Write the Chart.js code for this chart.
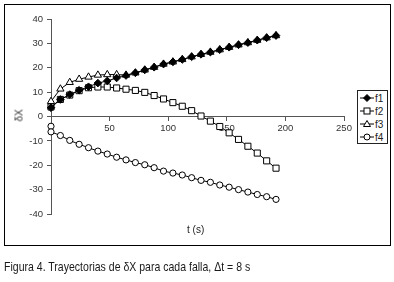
<!DOCTYPE html>
<html><head><meta charset="utf-8">
<script src="https://cdn.jsdelivr.net/npm/chart.js@4.4.1/dist/chart.umd.min.js"></script>
<style>
html,body{margin:0;padding:0;background:#fff;}
#wrap{position:relative;width:394px;height:282px;overflow:hidden;font-family:"Liberation Sans",Arial,sans-serif;}
#frame{position:absolute;left:4px;top:4px;width:385px;height:240px;border:1px solid #000;}
canvas{position:absolute;left:0;top:0;}
#xt{position:absolute;left:187px;top:224px;font-size:10px;color:#222;}
#yt{position:absolute;left:8px;top:110px;width:22px;text-align:center;font-size:10px;color:#333;transform:rotate(-90deg);}
#legend{position:absolute;left:357px;top:90px;width:29px;height:52px;border:1px solid #222;background:#fff;}
.li{position:absolute;left:1px;height:13px;font-size:10px;color:#222;line-height:13px;}
.li svg{position:absolute;left:1px;top:0;}
.li span{position:absolute;left:16px;top:0;}
#cap{position:absolute;left:4px;top:260px;font-size:12.4px;color:#1a1a1a;white-space:nowrap;transform:scaleX(0.85);transform-origin:0 0;}
</style></head>
<body><div id="wrap">
<div id="frame"></div>
<canvas id="c" width="394" height="282"></canvas>
<div id="xt">t (s)</div>
<div id="yt">δX</div>
<div id="legend"></div>
<div id="cap">Figura 4. Trayectorias de δX para cada falla, Δt = 8 s</div>
</div>
<script>
const t = [0,8,16,24,32,40,48,56,64,72,80,88,96,104,112,120,128,136,144,152,160,168,176,184,192];
const tF4 = [0].concat(t);
const f1 = [3.6,7.0,9.0,10.8,12.2,13.7,14.6,15.8,16.8,17.9,19.1,20.2,21.5,22.4,23.4,24.5,25.5,26.4,27.4,28.4,29.4,30.3,31.3,32.3,33.2];
const f2 = [3.9,7.0,8.8,10.6,11.8,12.1,12.1,11.7,11.2,10.7,9.9,8.6,7.2,5.7,4.2,2.4,0.2,-1.9,-4.1,-6.7,-9.4,-12.2,-15.0,-18.2,-21.2];
const f3 = [6.2,11.3,14.0,15.3,16.2,17.0,17.2,17.2,17.0,17.9,19.1,20.2,21.5,22.4,23.4,24.5,25.5,26.4,27.4,28.4,29.4,30.3,31.3,32.3,33.2];
const f4 = [-4.0,-6.3,-7.8,-9.8,-11.4,-12.8,-14.2,-15.4,-16.7,-17.8,-18.9,-19.8,-21.0,-22.4,-23.2,-24.0,-25.1,-26.2,-27.0,-28.1,-29.0,-30.0,-31.0,-32.0,-32.9,-34.0];
const names = ['f1','f2','f3','f4'];
const xTicks = [0,50,100,150,200,250];
const yTicks = [-40,-30,-20,-10,0,10,20,30,40];

const pts = (xs, ys) => ys.map((v,i)=>({x:xs[i], y:v}));
const styles = [
  {pointStyle:'rectRot', pointRadius:3.8, pointBackgroundColor:'#000'},
  {pointStyle:'rect', pointRadius:4.3, pointBackgroundColor:'#fff'},
  {pointStyle:'triangle', pointRadius:4.2, pointBackgroundColor:'#fff'},
  {pointStyle:'circle', pointRadius:3.1, pointBackgroundColor:'#fff'}
];
const series = [pts(t,f1), pts(t,f2), pts(t,f3), pts(tF4,f4)];
const datasets = series.map((d,i)=>Object.assign({
  label:names[i], data:d, borderColor:'#000', borderWidth:1,
  pointBorderColor:'#000', pointBorderWidth:1, clip:false, tension:0
}, styles[i]));

const axisCommon = {
  border:{display:true,color:'#555',width:1},
  grid:{display:true,drawOnChartArea:false,drawTicks:true,tickLength:4,tickColor:'#555'},
  ticks:{color:'#333',font:{family:'"Liberation Sans", Arial, sans-serif',size:9.5}}
};
new Chart(document.getElementById('c'), {
  type:'line',
  data:{datasets},
  options:{
    responsive:false, animation:false, devicePixelRatio:1,
    layout:{padding:{left:4,right:50,top:19,bottom:68}},
    plugins:{legend:{display:false},tooltip:{enabled:false}},
    scales:{
      x:Object.assign({}, axisCommon, {type:'linear', min:0, max:250, position:{y:0},
        afterBuildTicks:s=>{s.ticks = xTicks.map(v=>({value:v}));},
        ticks:Object.assign({}, axisCommon.ticks, {padding:2, maxRotation:0, callback:v=> v===0 ? '' : v})}),
      y:Object.assign({}, axisCommon, {type:'linear', min:-40, max:40, position:'left',
        afterBuildTicks:s=>{s.ticks = yTicks.map(v=>({value:v}));},
        afterFit:s=>{s.width = 47;},
        ticks:Object.assign({}, axisCommon.ticks, {padding:4})})
    }
  }
});

// legend
const leg = document.getElementById('legend');
const sym = [
  '<polygon points="7,2.5 10.5,6 7,9.5 3.5,6" fill="#000" stroke="#000"/>',
  '<rect x="4" y="3" width="6" height="6" fill="#fff" stroke="#000"/>',
  '<polygon points="7,2.5 10.5,8.5 3.5,8.5" fill="#fff" stroke="#000"/>',
  '<circle cx="7" cy="6" r="3" fill="#fff" stroke="#000"/>'
];
names.forEach((n,i)=>{
  const d = document.createElement('div');
  d.className='li'; d.style.top = (1 + i*13) + 'px';
  d.innerHTML = '<svg width="15" height="13"><line x1="0" y1="6" x2="14" y2="6" stroke="#000" stroke-width="1"/>'+sym[i]+'</svg><span>'+n+'</span>';
  leg.appendChild(d);
});
</script>
</body></html>
